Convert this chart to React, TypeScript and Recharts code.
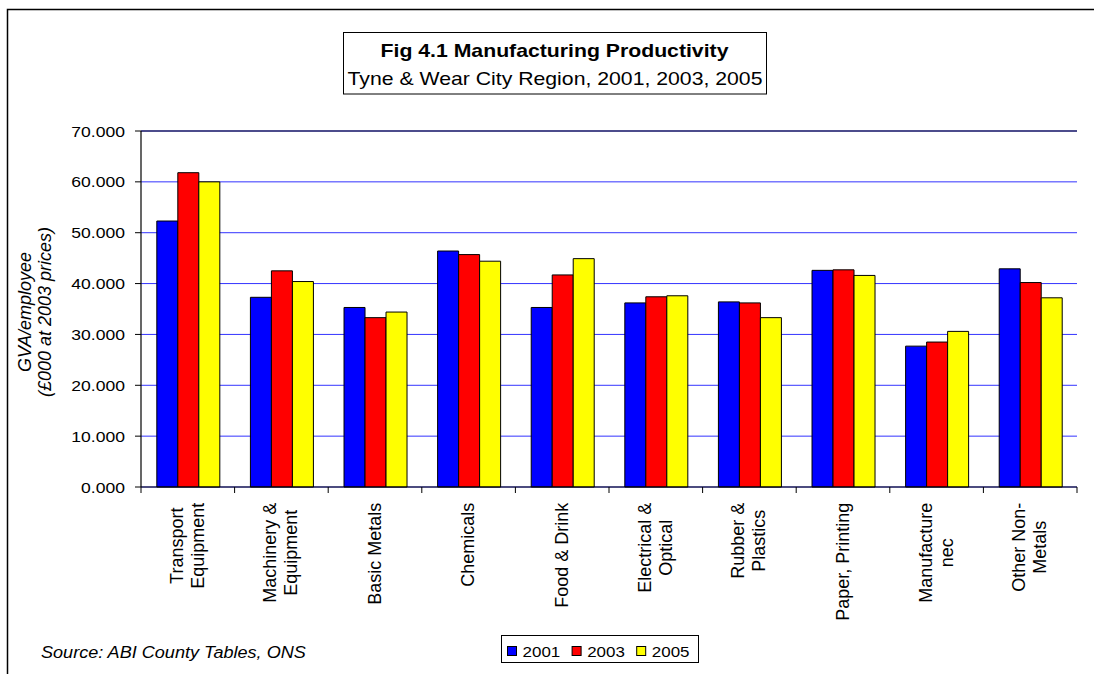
import React from 'react';
import { BarChart, Bar, XAxis, YAxis, CartesianGrid, ReferenceLine, Legend } from 'recharts';

// ---------- data ----------
const categories = [
  'Transport Equipment',
  'Machinery & Equipment',
  'Basic Metals',
  'Chemicals',
  'Food & Drink',
  'Electrical & Optical',
  'Rubber & Plastics',
  'Paper, Printing',
  'Manufacture nec',
  'Other Non-Metals',
];
const categoryLabelLines = [
  ['Transport', 'Equipment'],
  ['Machinery &', 'Equipment'],
  ['Basic Metals'],
  ['Chemicals'],
  ['Food & Drink'],
  ['Electrical &', 'Optical'],
  ['Rubber &', 'Plastics'],
  ['Paper, Printing'],
  ['Manufacture', 'nec'],
  ['Other Non-', 'Metals'],
];
const values2001 = [52.3, 37.3, 35.3, 46.4, 35.3, 36.2, 36.4, 42.6, 27.7, 42.9];
const values2003 = [61.8, 42.5, 33.3, 45.7, 41.7, 37.4, 36.2, 42.7, 28.5, 40.2];
const values2005 = [60.0, 40.4, 34.4, 44.4, 44.9, 37.6, 33.3, 41.6, 30.6, 37.2];
const seriesNames = ['2001', '2003', '2005'];
const seriesKeys = ['y2001', 'y2003', 'y2005'];
const seriesColors = ['#0000FF', '#FF0000', '#FFFF00'];
const yTicks = [0, 10, 20, 30, 40, 50, 60, 70];
const titleText = 'Fig 4.1 Manufacturing Productivity';
const subtitleText = 'Tyne & Wear City Region, 2001, 2003, 2005';
const yAxisLabelLines = ['GVA/employee', '(£000 at 2003 prices)'];
const sourceText = 'Source: ABI County Tables, ONS';

const data = categories.map((name, i) => ({
  name,
  y2001: values2001[i],
  y2003: values2003[i],
  y2005: values2005[i],
}));

// ---------- layout ----------
const W = 1094;
const H = 674;
const MARGIN = { top: 131, right: 17, bottom: 37, left: 81 };
const YAXIS_W = 60;
const XAXIS_H = 150;
const PLOT_LEFT = MARGIN.left + YAXIS_W;
const PLOT_W = W - MARGIN.right - PLOT_LEFT;
const AXIS_Y = H - MARGIN.bottom - XAXIS_H;
const BAND = PLOT_W / categories.length;
const FONT = '"Liberation Sans", Arial, Helvetica, sans-serif';
const SX = 1.17;

let measureCtx: CanvasRenderingContext2D | null = null;
function measure(text: string, font: string): number {
  if (!measureCtx) measureCtx = document.createElement('canvas').getContext('2d');
  if (!measureCtx) return text.length * 9;
  measureCtx.font = font;
  return measureCtx.measureText(text).width;
}

const XTick = (props: any) => {
  const { x, payload } = props;
  const idx = categories.indexOf(payload.value);
  const lines = categoryLabelLines[idx] || [String(payload.value)];
  const maxW = Math.max(...lines.map((l) => measure(l, `18px ${FONT}`)));
  const cy = AXIS_Y + 15.7 + maxW / 2;
  const n = lines.length;
  return (
    <g>
      <line x1={x - BAND / 2} x2={x - BAND / 2} y1={AXIS_Y} y2={AXIS_Y + 6} stroke="#000" />
      {idx === categories.length - 1 && (
        <line x1={x + BAND / 2} x2={x + BAND / 2} y1={AXIS_Y} y2={AXIS_Y + 6} stroke="#000" />
      )}
      {lines.map((l, i) => (
        <text
          key={i}
          transform={`translate(${x},${cy}) rotate(-90)`}
          x={0}
          y={(i - (n - 1) / 2) * 21 - 0.5}
          textAnchor="middle"
          dominantBaseline="central"
          fontSize={18}
          fontFamily={FONT}
          fill="#000"
        >
          {l}
        </text>
      ))}
    </g>
  );
};

const YTick = (props: any) => {
  const { x, y, payload } = props;
  return (
    <text
      transform={`translate(${x},${y}) scale(${SX},1)`}
      textAnchor="end"
      dominantBaseline="central"
      fontSize={15}
      fontFamily={FONT}
      fill="#000"
    >
      {Number(payload.value).toFixed(3)}
    </text>
  );
};

const LegendBox = () => (
  <svg width={200} height={29} style={{ display: 'block' }}>
    <rect x={0.5} y={0.5} width={197} height={27} fill="#fff" stroke="#000" />
    {seriesNames.map((n, i) => (
      <g key={n}>
        <rect x={6.5 + i * 64.6} y={11.5} width={9} height={9} fill={seriesColors[i]} stroke="#000" />
        <text
          transform={`translate(${21.6 + i * 64.6},21.7) scale(1.13,1)`}
          fontSize={15}
          fontFamily={FONT}
          fill="#000"
        >
          {n}
        </text>
      </g>
    ))}
  </svg>
);

export default function App() {
  return (
    <div style={{ position: 'absolute', left: 0, top: 0, width: W, height: H, background: '#fff' }}>
      <BarChart
        width={W}
        height={H}
        data={data}
        margin={MARGIN}
        barCategoryGap="16.9%"
        barGap={0}
      >
        <CartesianGrid vertical={false} stroke="#3333ff" strokeWidth={1} />
        <XAxis
          dataKey="name"
          height={XAXIS_H}
          interval={0}
          tickLine={false}
          axisLine={{ stroke: '#000', strokeWidth: 1.2 }}
          tick={<XTick />}
        />
        <YAxis
          width={YAXIS_W}
          domain={[0, 70]}
          ticks={yTicks}
          interval={0}
          tickSize={6}
          tickMargin={10}
          tickLine={{ stroke: '#000' }}
          axisLine={{ stroke: '#000', strokeWidth: 1.2 }}
          tick={<YTick />}
        />
        <YAxis
          yAxisId="right"
          orientation="right"
          width={0}
          domain={[0, 70]}
          tick={false}
          tickLine={false}
          axisLine={{ stroke: '#222', strokeWidth: 1.5 }}
        />
        <ReferenceLine y={70} stroke="#333366" strokeWidth={1.5} />
        {seriesKeys.map((k, i) => (
          <Bar
            key={k}
            dataKey={k}
            name={seriesNames[i]}
            fill={seriesColors[i]}
            stroke="#000"
            strokeWidth={1}
            isAnimationActive={false}
          />
        ))}
        <Legend
          content={<LegendBox />}
          layout="horizontal"
          verticalAlign="middle"
          align="center"
          wrapperStyle={{ position: 'absolute', left: 501, top: 635, width: 200, height: 29 }}
        />
      </BarChart>
      <svg
        width={W}
        height={H}
        style={{ position: 'absolute', left: 0, top: 0, pointerEvents: 'none' }}
      >
        <path d={`M7.5,${H} V9.5 H${W}`} fill="none" stroke="#000" strokeWidth={1.5} />
        <rect x={343.5} y={32.5} width={423} height={61.5} fill="#fff" stroke="#000" strokeWidth={1} />
        <text
          transform={`translate(554.5,56.5) scale(1.18,1)`}
          textAnchor="middle"
          fontSize={18}
          fontWeight="bold"
          fontFamily={FONT}
          fill="#000"
        >
          {titleText}
        </text>
        <text
          transform={`translate(555,85) scale(1.18,1)`}
          textAnchor="middle"
          fontSize={18}
          fontFamily={FONT}
          fill="#000"
        >
          {subtitleText}
        </text>
        {yAxisLabelLines.map((l, i) => (
          <text
            key={i}
            transform={`translate(${25 + i * 20},312) rotate(-90)`}
            textAnchor="middle"
            dominantBaseline="central"
            fontSize={18}
            fontStyle="italic"
            fontFamily={FONT}
            fill="#000"
          >
            {l}
          </text>
        ))}
        <text
          transform={`translate(41,658) scale(1.13,1)`}
          fontSize={16}
          fontStyle="italic"
          fontFamily={FONT}
          fill="#000"
        >
          {sourceText}
        </text>
      </svg>
    </div>
  );
}
